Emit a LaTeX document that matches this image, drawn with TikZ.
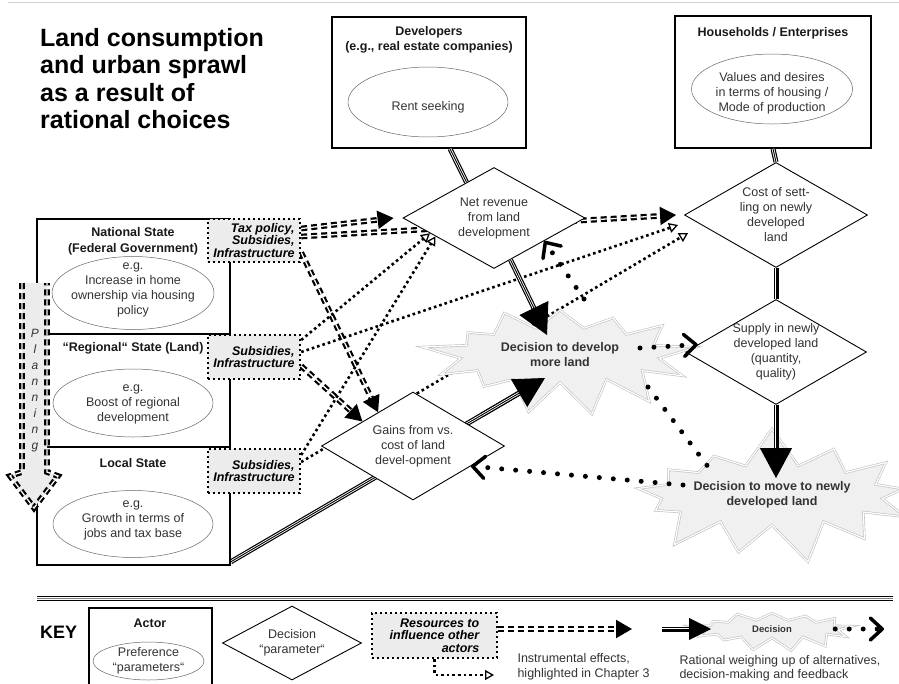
\documentclass[tikz,border=0pt]{standalone}
\usepackage{fontspec}
\setmainfont{Liberation Sans}
\usetikzlibrary{arrows.meta, shapes.geometric, shapes.symbols, positioning, calc, backgrounds}

\begin{document}
\begin{tikzpicture}[x=1pt, y=-1pt, on grid,
    actor/.style={draw, line width=1.6pt, inner sep=0pt},
    pref/.style={ellipse, draw=black!60, line width=0.5pt, inner sep=0pt},
    preftext/.style={align=center, text=black!80, font=\fontsize{12.5}{15}\selectfont},
    head/.style={align=center, text=black!90, font=\fontsize{12.5}{15}\selectfont\bfseries},
    decision/.style={diamond, draw, line width=0.9pt, fill=white, inner sep=-3pt, align=center, text=black!80, font=\fontsize{12.5}{15}\selectfont},
    means/.style={draw, fill=gray!15, line width=2.4pt, dash pattern=on 2.4pt off 2.6pt, inner sep=1.5pt, align=right, font=\fontsize{12.5}{12.5}\selectfont\bfseries\itshape},
    choice/.style={starburst, starburst points=13, starburst point height=40pt, random starburst=42, draw=gray!50, double=white, double distance=1.2pt, line width=0.6pt, fill=gray!12, inner sep=0pt, align=center, text=black!80, font=\fontsize{12.5}{15}\selectfont\bfseries},
    triple/.style={draw, double, line width=1.2pt, double distance=2.6pt},
    core/.style={draw, line width=0.9pt},
    bigtip/.style={-{Triangle[length=30pt, width=32pt]}},
    dashes/.style={draw, double, line width=2.2pt, double distance=1.3pt, dash pattern=on 6pt off 4pt},
    instr/.style={dashes, -{Triangle[length=16pt, width=18pt]}},
    hint/.style={draw, line width=2.6pt, dash pattern=on 2.6pt off 3pt, -{Triangle[open, length=9pt, width=10pt, line width=1.3pt]}},
    feedback/.style={draw, line width=5pt, line cap=round, dash pattern=on 0pt off 14pt, -{Straight Barb[length=12pt, width=22pt, line width=3.5pt, round]}}
  ]
  \useasboundingbox (0,0) rectangle (899,683);

  % frame line and title
  \draw[gray!35, line width=1.2pt] (8,2.5) -- (899,2.5);
  \node[anchor=north west, inner sep=0pt, align=left, font=\fontsize{25}{27.5}\selectfont\bfseries] (title) at (40,28)
    {Land consumption\\and urban sprawl\\as a result of\\rational choices};

  % private actors
  \node[actor, minimum width=194pt, minimum height=131pt] (dev) at (429,82.5) {};
  \node[head] (devHead) at (429,40) {Developers\\(e.g., real estate companies)};
  \node[pref, minimum width=160pt, minimum height=70pt] (devPref) at (428,102) {};
  \node[preftext] (devText) at (428,107) {Rent seeking};

  \node[actor, minimum width=196pt, minimum height=132pt] (hh) at (773,82) {};
  \node[head] (hhHead) at (773,33) {Households / Enterprises};
  \node[pref, minimum width=161pt, minimum height=70pt] (hhPref) at (772,89) {};
  \node[preftext] (hhText) at (772,93) {Values and desires\\in terms of housing /\\Mode of production};

  % state actors
  \node[actor, minimum width=193pt, minimum height=115pt] (natState) at (133.5,276.5) {};
  \node[actor, minimum width=193pt, minimum height=113pt] (regState) at (133.5,390.5) {};
  \node[actor, minimum width=193pt, minimum height=118pt] (locState) at (133.5,506) {};
  \node[head] (natHead) at (133,241) {National State\\[1pt](Federal Government)};
  \node[pref, minimum width=162pt, minimum height=73pt] (natPref) at (133,293) {};
  \node[preftext] (natText) at (133,290) {e.g.\\Increase in home\\ownership via housing\\policy};
  \node[head] (regHead) at (133,348) {“Regional“ State (Land)};
  \node[pref, minimum width=160pt, minimum height=68pt] (regPref) at (133,403) {};
  \node[preftext] (regText) at (133,404) {e.g.\\Boost of regional\\development};
  \node[head] (locHead) at (133,463) {Local State};
  \node[pref, minimum width=160pt, minimum height=67pt] (locPref) at (133,524) {};
  \node[preftext] (locText) at (133,520) {e.g.\\Growth in terms of\\jobs and tax base};

  % planning arrow
  \fill[gray!15] (22,283) -- (22,472) -- (10,476) -- (34,508) -- (58,476) -- (47,472) -- (47,283) -- cycle;
  \draw[dashes] (22,283) -- (22,472) -- (10,476) -- (34,508) -- (58,476) -- (47,472) -- (47,283);
  \node[align=center, text=black!80, font=\fontsize{12}{16}\selectfont\itshape] (planning) at (35,391) {P\\l\\a\\n\\n\\i\\n\\g};

  % resources of the state actors
  \node[means, minimum width=92pt, minimum height=43pt] (taxMeans) at (254,240.5) {Tax policy,\\Subsidies,\\Infrastructure};
  \node[means, minimum width=92pt, minimum height=44pt] (regMeans) at (254,357) {Subsidies,\\Infrastructure};
  \node[means, minimum width=92pt, minimum height=44pt] (locMeans) at (254,471) {Subsidies,\\Infrastructure};

  % decision parameters
  \node[decision, minimum width=182pt, minimum height=101pt, aspect=1.8] (netRev) at (494,218) {Net revenue\\from land\\development};
  \node[decision, minimum width=183pt, minimum height=108pt, aspect=1.7] (gains) at (413,446) {Gains from vs.\\cost of land\\devel-opment};
  \node[decision, minimum width=183pt, minimum height=105pt, aspect=1.74] (cost) at (776,215) {Cost of sett-\\ling on newly\\developed\\land};
  \node[decision, minimum width=181pt, minimum height=105pt, aspect=1.72, node distance=137pt, below=of cost] (supply) {Supply in newly\\developed land\\(quantity,\\quality)};

  % decisions
  \node[choice, minimum width=280pt, minimum height=135pt] (develop) at (560,355) {Decision to develop\\more land};
  \node[choice, minimum width=270pt, minimum height=140pt, random starburst=7] (move) at (772,495) {Decision to move to newly\\developed land};

  \coordinate (netOut) at ($(netRev.south)!0.18!(netRev.east)$);
  \coordinate (netTip) at ([xshift=-13pt,yshift=20pt]develop.center);
  \coordinate (locOut) at ([yshift=4pt]locState.south east);
  \coordinate (locTip) at ([xshift=-15pt,yshift=-23pt]develop.center);
  \coordinate (moveTip) at (supply.south |- 0,478);

  % instrumental effects
  \begin{scope}[on background layer]
    \draw[instr] ([yshift=12pt]taxMeans.east) -- ([xshift=-9pt]netRev.west);
    \draw[instr] ([yshift=4pt]taxMeans.east) -- ([xshift=-8pt]cost.west);
    \draw[instr] ([yshift=-12pt]taxMeans.east) -- ($(gains.west)!0.62!(gains.north)$);
    \draw[instr] ([yshift=-9pt]regMeans.east) -- ($(gains.west)!0.45!(gains.north)$);
    \draw[hint] ([yshift=17pt]regMeans.east) -- ($(netRev.west)!0.3!(netRev.south)$);
    \draw[hint] ([yshift=5pt]regMeans.east) -- ([xshift=-6pt,yshift=-10pt]cost.west);
    \draw[hint] ([yshift=16pt]locMeans.east) -- ($(netRev.west)!0.36!(netRev.south)$);
    \draw[hint] ([yshift=9pt]locMeans.east) -- ([xshift=4pt,yshift=-18pt]cost.west);
    \draw[triple] (locOut) -- (locTip);
    \draw[core] (locOut) -- (locTip);
  \end{scope}

  % rational weighing
  \draw[triple] ([xshift=21pt]dev.south) -- ($(netRev.west)!0.7!(netRev.north)$);
  \draw[core] ([xshift=21pt]dev.south) -- ($(netRev.west)!0.7!(netRev.north)$);
  \draw[triple] (hh.south) -- (cost.north);
  \draw[core] (hh.south) -- (cost.north);
  \draw[triple] (cost.south) -- (supply.north);
  \draw[core] (cost.south) -- (supply.north);
  \draw[triple, shorten >=22pt] (netOut) -- (netTip);
  \draw[core, bigtip] (netOut) -- (netTip);
  \draw[triple, shorten >=22pt] ($(locOut)!0.8!(locTip)$) -- (locTip);
  \draw[core, bigtip] ($(locOut)!0.8!(locTip)$) -- (locTip);
  \draw[triple, shorten >=22pt] (supply.south) -- (moveTip);
  \draw[core, bigtip] (supply.south) -- (moveTip);

  % feedback
  \draw[feedback] ([xshift=24pt,yshift=56pt]develop.center) -- ($(netRev.south)!0.55!(netRev.east)$);
  \draw[feedback] ([xshift=80pt,yshift=7pt]develop.center) -- ($(supply.west)!0.14!(supply.north)$);
  \draw[feedback, -] ([xshift=88pt,yshift=-32pt]develop.center) -- ([xshift=-60pt,yshift=23pt]move.center);
  \draw[feedback] ([xshift=-89pt,yshift=10pt]move.center) -- ($(gains.east)!0.37!(gains.south)$);

  % key
  \draw[triple, line width=1.6pt, double distance=2.6pt] (37,598.5) -- (893,598.5);
  \draw[gray, line width=0.8pt] (37,598.5) -- (893,598.5);
  \node[anchor=west, inner sep=0pt, font=\fontsize{18}{22}\selectfont\bfseries] (keyLabel) at (40,632) {KEY};
  \node[actor, minimum width=123pt, minimum height=95pt, anchor=north west] (keyActor) at (88,607) {};
  \node[head] (keyHead) at (150,623) {Actor};
  \node[pref, minimum width=111pt, minimum height=38pt] (keyPref) at (148.5,661) {};
  \node[preftext] (keyPrefText) at (148.5,661) {Preference\\“parameters“};
  \node[decision, minimum width=139pt, minimum height=74pt, aspect=1.9] (keyDec) at (292,643) {Decision\\“parameter“};
  \node[means, minimum width=125pt, minimum height=45pt] (keyMeans) at (434.5,635.5) {Resources to\\influence other\\actors};
  \coordinate (keyInstrEnd) at (632,629);
  \coordinate (keyHintEnd) at (494,675);
  \draw[instr] (keyMeans.east |- keyInstrEnd) -- (keyInstrEnd);
  \draw[hint] (keyMeans.south) |- (keyHintEnd);
  \node[anchor=west, align=left, text=black!80, font=\fontsize{12.5}{15}\selectfont] (keyInstrText) at (514,667) {Instrumental effects,\\highlighted in Chapter 3};
  \node[choice, starburst point height=16pt, minimum width=165pt, minimum height=50pt, font=\fontsize{9.5}{11}\selectfont\bfseries] (keyChoice) at (772,629) {Decision};
  \coordinate (keyTripleA) at (662,629);
  \coordinate (keyTripleB) at (711,629);
  \draw[triple, shorten >=14pt] (keyTripleA) -- (keyTripleB);
  \draw[core, -{Triangle[length=22pt, width=22pt]}] (keyTripleA) -- (keyTripleB);
  \coordinate (keyFbEnd) at (884,629);
  \draw[feedback] ([xshift=-8pt]keyChoice.east) -- (keyFbEnd);
  \node[anchor=west, align=left, text=black!80, font=\fontsize{12.5}{14}\selectfont] (keyChoiceText) at (676,668) {Rational weighing up of alternatives,\\decision-making and feedback};
\end{tikzpicture}
\end{document}
